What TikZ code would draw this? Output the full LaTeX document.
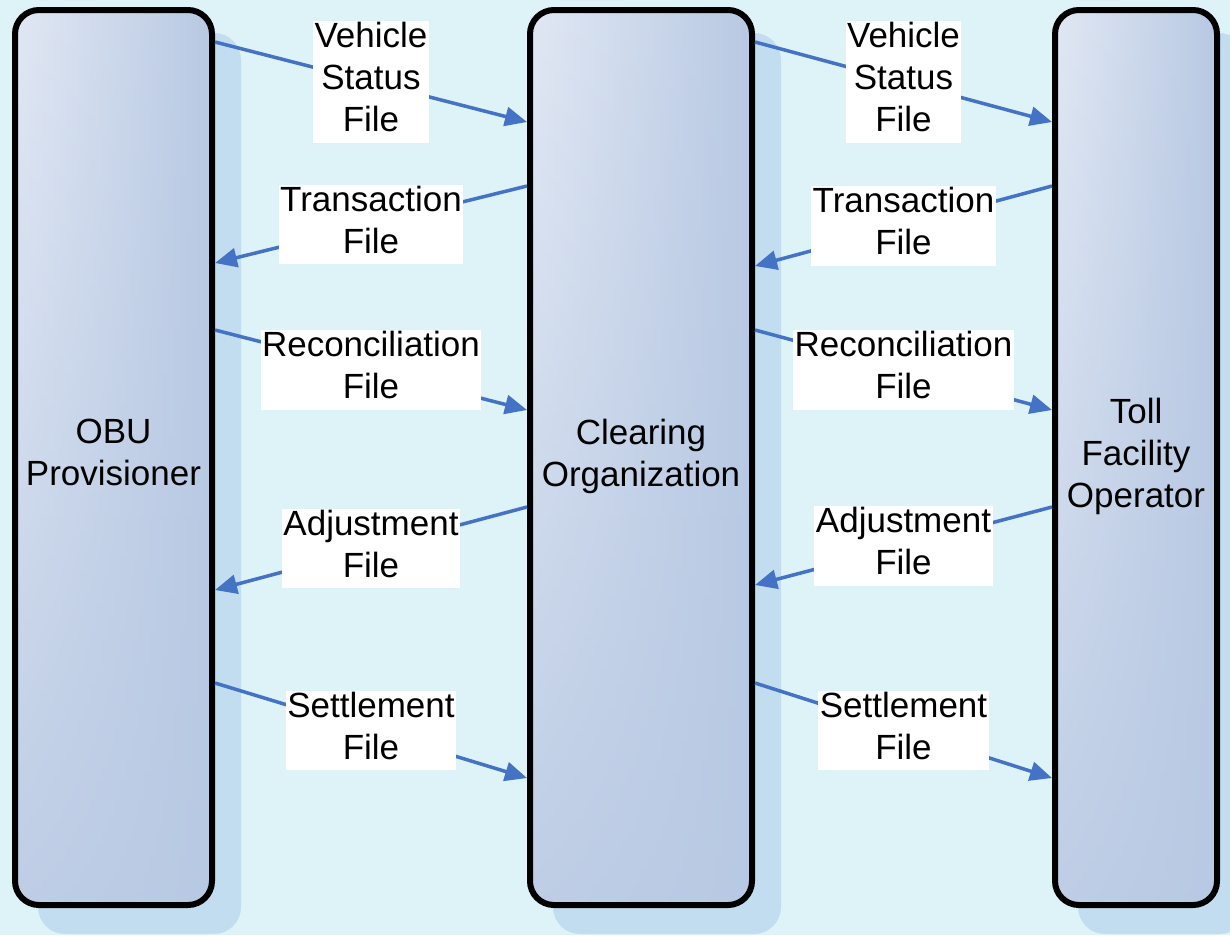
\documentclass[tikz,border=0pt]{standalone}
\usepackage{fontspec}
\setmainfont{Liberation Sans}
\usetikzlibrary{arrows.meta,shadows,fadings}

\definecolor{bgc}{HTML}{DDF3F8}
\definecolor{shadowc}{HTML}{C2DDEF}
\definecolor{boxL}{HTML}{E4EAF5}
\definecolor{boxR}{HTML}{B8C9E3}
\definecolor{flow}{HTML}{4472C4}

\newcommand{\bigtext}{\fontsize{35}{42}\selectfont}
\newcommand{\topstrut}{\rule{0pt}{31pt}}
\newcommand{\botstrut}{\rule[-10pt]{0pt}{10pt}}

% lower part of each column darkens towards the right-hand colour
\begin{tikzfadingfrompicture}[name=downdark]
  \shade[top color=transparent!100, bottom color=transparent!10]
    (-1cm,-1cm) rectangle (1cm,1cm);
\end{tikzfadingfrompicture}

\tikzset{
  party/.style={draw=black, line width=6pt, rounded corners=24pt,
    minimum width=#1, minimum height=895pt, inner sep=0pt, outer sep=3pt,
    left color=boxL, right color=boxR,
    path picture={\fill[boxR, path fading=downdark]
      (path picture bounding box.south west) rectangle
      (path picture bounding box.north east);},
    drop shadow={shadow xshift=26pt, shadow yshift=-26pt, opacity=1,
      fill=shadowc, draw=shadowc, line width=6pt},
    align=center, font=\bigtext,
    execute at begin node=\topstrut, execute at end node=\botstrut},
  filelabel/.style={fill=white, inner xsep=1.5pt, inner ysep=1pt,
    align=center, font=\bigtext,
    execute at begin node=\topstrut, execute at end node=\botstrut},
  flowline/.style={draw=flow, line width=3.5pt,
    -{Triangle[length=22pt, width=19pt]}}
}

\begin{document}
\begin{tikzpicture}[x=1pt, y=-1pt]
  % canvas
  \fill[bgc] (0,0) rectangle (1230,935);
  \useasboundingbox (0,0) rectangle (1230,935);

  % the three parties
  \node[party=197pt] (obu)   at (113.5,457.5) {OBU\\Provisioner};
  \node[party=222pt] (clear) at (641,457.5)   {Clearing\\Organization};
  \node[party=162pt] (toll)  at (1136,457.5)  {Toll\\Facility\\Operator};

  % files exchanged between OBU provisioner and clearing organization
  \draw[flowline] (obu.east |- 0,42) -- node[filelabel] (l1) {Vehicle\\Status\\File} (clear.west |- 0,122);
  \draw[flowline] (clear.west |- 0,186) -- node[filelabel] (l2) {Transaction\\File} (obu.east |- 0,263);
  \draw[flowline] (obu.east |- 0,330) -- node[filelabel] (l3) {Reconciliation\\File} (clear.west |- 0,410);
  \draw[flowline] (clear.west |- 0,507) -- node[filelabel] (l4) {Adjustment\\File} (obu.east |- 0,590);
  \draw[flowline] (obu.east |- 0,683) -- node[filelabel] (l5) {Settlement\\File} (clear.west |- 0,778);

  % files exchanged between clearing organization and toll facility operator
  \draw[flowline] (clear.east |- 0,42) -- node[filelabel] (r1) {Vehicle\\Status\\File} (toll.west |- 0,122);
  \draw[flowline] (toll.west |- 0,186) -- node[filelabel] (r2) {Transaction\\File} (clear.east |- 0,266);
  \draw[flowline] (clear.east |- 0,330) -- node[filelabel] (r3) {Reconciliation\\File} (toll.west |- 0,410);
  \draw[flowline] (toll.west |- 0,507) -- node[filelabel] (r4) {Adjustment\\File} (clear.east |- 0,585);
  \draw[flowline] (clear.east |- 0,683) -- node[filelabel] (r5) {Settlement\\File} (toll.west |- 0,778);
\end{tikzpicture}
\end{document}
